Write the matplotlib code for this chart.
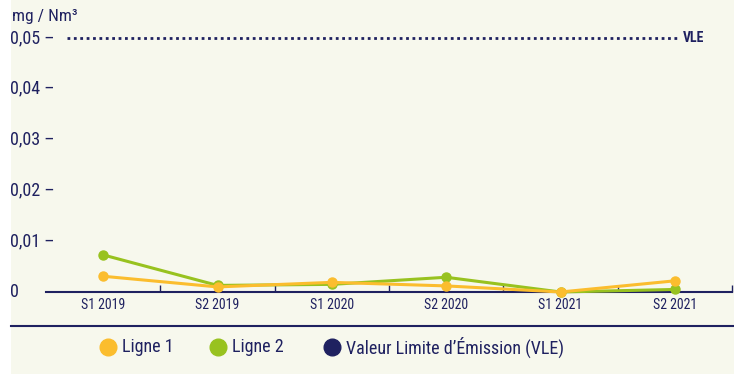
import matplotlib
matplotlib.use("Agg")
import matplotlib.pyplot as plt
from matplotlib.patches import Rectangle
from matplotlib.lines import Line2D

plt.rcParams['font.family'] = ['Roboto Condensed', 'Liberation Sans Narrow', 'DejaVu Sans']
plt.rcParams['font.stretch'] = 'condensed'

periods = ["S1 2019", "S2 2019", "S1 2020", "S2 2020", "S1 2021", "S2 2021"]
ligne1 = [0.0031, 0.0010, 0.0019, 0.0012, 0.0000, 0.0022]
ligne2 = [0.0073, 0.0013, 0.0015, 0.0029, 0.0000, 0.0005]
vle = 0.05
yticks = [0, 0.01, 0.02, 0.03, 0.04, 0.05]
ytick_labels = ["0", "0,01 –", "0,02 –", "0,03 –", "0,04 –", "0,05 –"]

NAVY = "#1f2160"
ORANGE = "#fbbd2e"
GREEN = "#98c21f"
CREAM = "#f7f8ed"

W, H = 734, 374
fig = plt.figure(figsize=(W / 100, H / 100), dpi=100, facecolor="white")
fig.patches.append(Rectangle((11 / W, 0), 1 - 11 / W, 1, transform=fig.transFigure,
                             facecolor=CREAM, edgecolor="none", zorder=-1))

ax = fig.add_axes([46 / W, 1 - 292 / H, 686 / W, 254 / H])
ax.set_zorder(2)
ax.set_facecolor("none")
x = list(range(len(periods)))
ax.set_xlim(-0.5, len(periods) - 0.5)
ax.set_ylim(0, vle)

ax.plot(x, ligne2, color=GREEN, lw=2.2, marker="o", ms=6.5, clip_on=False, zorder=3)
ax.plot(x, ligne1, color=ORANGE, lw=2.2, marker="o", ms=6.5, clip_on=False, zorder=4)

# emission limit
ax.axhline(vle, xmin=21 / 686, xmax=631 / 686, color=NAVY, lw=2, ls=(0, (1, 1.3)), clip_on=False)
fig.text(683 / W, 1 - 38 / H, "VLE", fontsize=10, fontweight="bold", color=NAVY,
         va="center", ha="left")

for s in ["top", "left", "right"]:
    ax.spines[s].set_visible(False)
ax.spines["bottom"].set_color(NAVY)
ax.spines["bottom"].set_linewidth(1.5)

ax.set_xticks(x)
ax.set_xticklabels(periods, fontsize=10, color=NAVY)
ax.tick_params(axis="x", which="major", length=0, pad=4)
ax.set_xticks([i + 0.5 for i in x], minor=True)
ax.tick_params(axis="x", which="minor", direction="in", length=5, width=1, color=NAVY)
ax.set_yticks([])

# y labels, left aligned on the page margin
for v, lab in zip(yticks, ytick_labels):
    yp = 292 - (292 - 38) * v / vle
    fig.text(10 / W, 1 - yp / H, lab, fontsize=13, color=NAVY, ha="left", va="center")
fig.text(12 / W, 1 - 17 / H, "mg / Nm³", fontsize=12.5, color=NAVY, ha="left", va="center")

# separator above the legend
fig.add_artist(Line2D([11 / W, 733 / W], [1 - 326 / H, 1 - 326 / H], color=NAVY, lw=1.5))

legend_items = [(108, ORANGE, "Ligne 1"), (218, GREEN, "Ligne 2"),
                (332, NAVY, "Valeur Limite d\u2019Émission (VLE)")]
for px, col, lab in legend_items:
    fig.add_artist(Line2D([px / W], [1 - 347 / H], marker="o", ms=12, color=col, lw=0))
    fig.text((px + 14) / W, 1 - 347 / H, lab, fontsize=13, color=NAVY, ha="left", va="center")

fig.savefig("out.png", dpi=100, facecolor=fig.get_facecolor())
